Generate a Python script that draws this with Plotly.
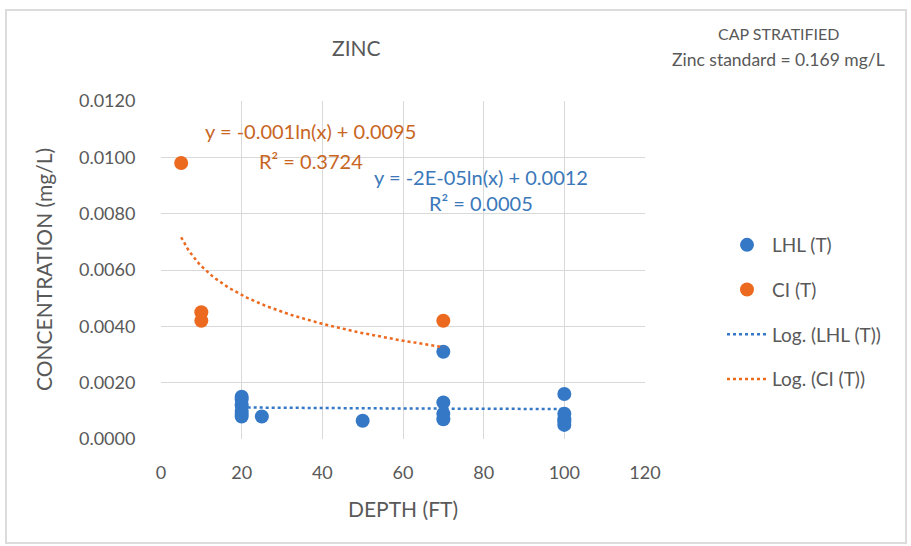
import numpy as np
import plotly.graph_objects as go

# Data
lhl_depth = [20, 20, 20, 20, 20, 20, 25, 50, 70, 70, 70, 70, 100, 100, 100, 100, 100]
lhl_conc = [0.0015, 0.0014, 0.0012, 0.0010, 0.0009, 0.0008, 0.0008, 0.00065,
            0.0031, 0.0013, 0.0009, 0.0007, 0.0016, 0.0009, 0.0007, 0.0006, 0.0005]
ci_depth = [5, 10, 10, 70]
ci_conc = [0.0098, 0.0045, 0.0042, 0.0042]

x_ticks = [0, 20, 40, 60, 80, 100, 120]
y_ticks = [0.0, 0.002, 0.004, 0.006, 0.008, 0.010, 0.012]

BLUE = "#3478C6"
ORANGE = "#EC6A1F"
BLUE_TXT = "#3A78BA"
ORANGE_TXT = "#C8661F"
GRAY_TXT = "#595959"
FONT = "Lato"

W, H = 911, 546
L, R, T, B = 161, 266, 101, 107


def log_fit(x, y):
    lx = np.log(np.array(x, dtype=float))
    a, b = np.polyfit(lx, np.array(y, dtype=float), 1)
    xs = np.linspace(min(x), max(x), 120)
    return xs, a * np.log(xs) + b


fig = go.Figure()
fig.add_trace(go.Scatter(x=lhl_depth, y=lhl_conc, mode="markers", name="LHL (T)",
                         legendgroup="a",
                         marker=dict(color=BLUE, size=14, line=dict(width=0))))
fig.add_trace(go.Scatter(x=ci_depth, y=ci_conc, mode="markers", name="CI (T)",
                         legendgroup="b",
                         marker=dict(color=ORANGE, size=14, line=dict(width=0))))
xs, ys = log_fit(lhl_depth, lhl_conc)
fig.add_trace(go.Scatter(x=xs, y=ys, mode="lines", name="Log. (LHL (T))",
                         legendgroup="c",
                         line=dict(color=BLUE, width=2.5, dash="dot")))
xs, ys = log_fit(ci_depth, ci_conc)
fig.add_trace(go.Scatter(x=xs, y=ys, mode="lines", name="Log. (CI (T))",
                         legendgroup="d",
                         line=dict(color=ORANGE, width=2.5, dash="dot")))

pw = W - L - R
ph = H - T - B


def px(xp):
    return (xp - L) / pw


def py(yp):
    return (H - B - yp) / ph


annots = [
    dict(text="y = -0.001ln(x) + 0.0095", x=px(310), y=py(131), color=ORANGE_TXT, size=20),
    dict(text="R² = 0.3724", x=px(311), y=py(161), color=ORANGE_TXT, size=20),
    dict(text="y = -2E-05ln(x) + 0.0012", x=px(481), y=py(177), color=BLUE_TXT, size=20),
    dict(text="R² = 0.0005", x=px(481), y=py(203), color=BLUE_TXT, size=20),
    dict(text="ZINC", x=px(356), y=py(48), color=GRAY_TXT, size=21),
    dict(text="CAP STRATIFIED", x=px(779), y=py(33), color=GRAY_TXT, size=16),
    dict(text="Zinc standard = 0.169 mg/L", x=px(778), y=py(60), color=GRAY_TXT, size=17.5),
    dict(text="DEPTH (FT)", x=px(403), y=py(508), color=GRAY_TXT, size=21),
    dict(text="CONCENTRATION (mg/L)", x=px(43), y=py(270), color=GRAY_TXT, size=21, angle=-90),
]
ann_list = []
for a in annots:
    ann_list.append(dict(text=a["text"], x=a["x"], y=a["y"], xref="paper", yref="paper",
                         showarrow=False, xanchor="center", yanchor="middle",
                         textangle=a.get("angle", 0),
                         font=dict(family=FONT, size=a["size"], color=a["color"])))

fig.update_layout(
    width=W, height=H,
    margin=dict(l=L, r=R, t=T, b=B),
    paper_bgcolor="white", plot_bgcolor="white",
    font=dict(family=FONT, color=GRAY_TXT, size=16),
    showlegend=True,
    legend=dict(x=px(722), y=py(226), xanchor="left", yanchor="top",
                font=dict(family=FONT, size=19, color=GRAY_TXT),
                tracegroupgap=17, itemwidth=40, bgcolor="rgba(0,0,0,0)"),
    annotations=ann_list,
    shapes=[dict(type="rect", xref="paper", yref="paper",
                 x0=px(6), x1=px(906), y0=py(543), y1=py(10),
                 line=dict(color="#DCDCDC", width=2), layer="below")],
)
fig.update_xaxes(range=[0, 120], tickvals=x_ticks, ticktext=[str(v) for v in x_ticks],
                 showgrid=True, gridcolor="#D9D9D9", gridwidth=1, zeroline=False,
                 showline=False, ticks="outside", ticklen=17, tickcolor="rgba(0,0,0,0)",
                 tickfont=dict(size=18, color=GRAY_TXT))
fig.update_yaxes(range=[0, 0.012], tickvals=y_ticks, ticktext=[f"{v:.4f}" for v in y_ticks],
                 showgrid=True, gridcolor="#D9D9D9", gridwidth=1, zeroline=False,
                 showline=False, ticks="outside", ticklen=21, tickcolor="rgba(0,0,0,0)",
                 tickfont=dict(size=18, color=GRAY_TXT))

fig.write_html("out.html")
